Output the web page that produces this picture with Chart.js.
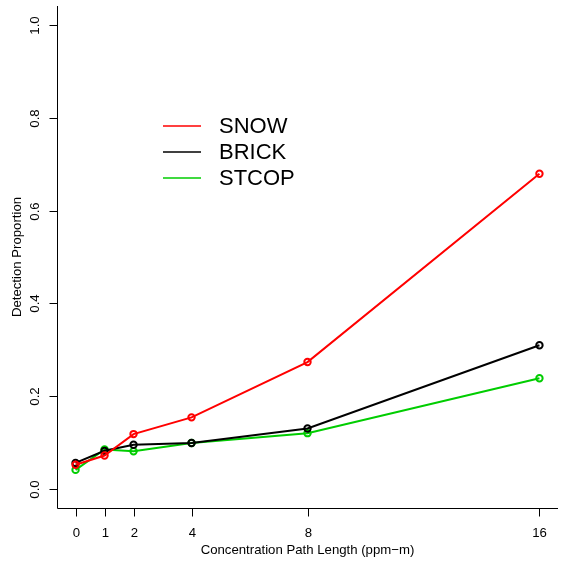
<!DOCTYPE html>
<html>
<head>
<meta charset="utf-8">
<script src="https://cdn.jsdelivr.net/npm/chart.js@4/dist/chart.umd.min.js"></script>
<style>
html, body { margin: 0; padding: 0; background: #fff; }
</style>
</head>
<body>
<canvas id="chart" width="564" height="565"></canvas>
<script>
// data
const pathLengths = [0, 1, 2, 4, 8, 16];
const snow  = [0.053, 0.073, 0.119, 0.155, 0.274, 0.679];
const brick = [0.057, 0.083, 0.096, 0.100, 0.131, 0.310];
const stcop = [0.042, 0.086, 0.082, 0.100, 0.121, 0.239];
const seriesNames = ["SNOW", "BRICK", "STCOP"];
const seriesColors = ["#ff0000", "#000000", "#00cd00"];

// axis ticks
const xTicks = [0, 1, 2, 4, 8, 16];
const yTicks = [0, 0.2, 0.4, 0.6, 0.8, 1.0];
const yTickLabels = ["0.0", "0.2", "0.4", "0.6", "0.8", "1.0"];

const xTitle = "Concentration Path Length (ppm\u2212m)";
const yTitle = "Detection Proportion";

const FONT = "'Liberation Sans', Arial, sans-serif";


///////////////////////////////////////////////////////////////////////////////
// draws R-style axes, labels and the legend
const rAxes = {
    id: "rAxes",
    afterDraw(chart)
    {
        const ctx = chart.ctx;
        const area = chart.chartArea;
        const xs = chart.scales.x;
        const ys = chart.scales.y;
        const left = Math.round(area.left) + 0.5;
        const bottom = Math.round(area.bottom) + 0.5;

        ctx.save();
        ctx.strokeStyle = "#000";
        ctx.fillStyle = "#000";
        ctx.lineWidth = 1;

        // L-shaped box
        ctx.beginPath();
        ctx.moveTo(left, area.top);
        ctx.lineTo(left, bottom);
        ctx.lineTo(area.right, bottom);
        ctx.stroke();

        // x ticks + labels
        ctx.font = "13.2px " + FONT;
        ctx.textAlign = "center";
        ctx.textBaseline = "middle";
        xTicks.forEach(v =>
        {
            const px = Math.round(xs.getPixelForValue(v)) + 0.5;
            ctx.beginPath();
            ctx.moveTo(px, bottom);
            ctx.lineTo(px, bottom + 8);
            ctx.stroke();
            ctx.fillText(String(v), px, 533);
        });

        // y ticks + rotated labels
        yTicks.forEach((v, i) =>
        {
            const py = Math.round(ys.getPixelForValue(v)) + 0.5;
            ctx.beginPath();
            ctx.moveTo(left, py);
            ctx.lineTo(left - 8, py);
            ctx.stroke();
            ctx.save();
            ctx.translate(35, py);
            ctx.rotate(-Math.PI / 2);
            ctx.fillText(yTickLabels[i], 0, 0);
            ctx.restore();
        });

        // axis titles
        ctx.fillText(xTitle, (area.left + area.right) / 2, 550);
        ctx.save();
        ctx.translate(17, (area.top + area.bottom) / 2);
        ctx.rotate(-Math.PI / 2);
        ctx.fillText(yTitle, 0, 0);
        ctx.restore();

        // legend
        ctx.font = "22px " + FONT;
        ctx.textAlign = "left";
        chart.data.datasets.forEach((ds, i) =>
        {
            const ly = 126 + i * 26;
            ctx.strokeStyle = ds.borderColor;
            ctx.lineWidth = 1.5;
            ctx.beginPath();
            ctx.moveTo(163, ly);
            ctx.lineTo(201, ly);
            ctx.stroke();
            ctx.fillStyle = "#000";
            ctx.fillText(ds.label, 219, ly + 1);
        });

        ctx.restore();
    }
};


///////////////////////////////////////////////////////////////////////////////
function makeSeries(name, values, color)
{
    return {
        label: name,
        data: pathLengths.map((x, i) => ({ x: x, y: values[i] })),
        borderColor: color,
        backgroundColor: "rgba(0,0,0,0)",
        borderWidth: 2,
        pointRadius: 3.2,
        pointBorderWidth: 2,
        pointBorderColor: color,
        pointBackgroundColor: "rgba(0,0,0,0)",
        tension: 0,
        fill: false
    };
}

const ctx = document.getElementById("chart").getContext("2d");
new Chart(ctx,
{
    type: "line",
    data:
    {
        datasets:
        [
            makeSeries(seriesNames[0], snow,  seriesColors[0]),
            makeSeries(seriesNames[1], brick, seriesColors[1]),
            makeSeries(seriesNames[2], stcop, seriesColors[2])
        ]
    },
    options:
    {
        responsive: false,
        animation: false,
        devicePixelRatio: 1,
        layout: { padding: { left: 57, right: 4, top: 2, bottom: 57 } },
        scales:
        {
            x: { type: "linear", min: -0.64, max: 16.64, display: false },
            y: { type: "linear", min: -0.04, max: 1.04, display: false }
        },
        plugins:
        {
            legend: { display: false },
            tooltip: { enabled: false }
        }
    },
    plugins: [rAxes]
});
</script>
</body>
</html>
